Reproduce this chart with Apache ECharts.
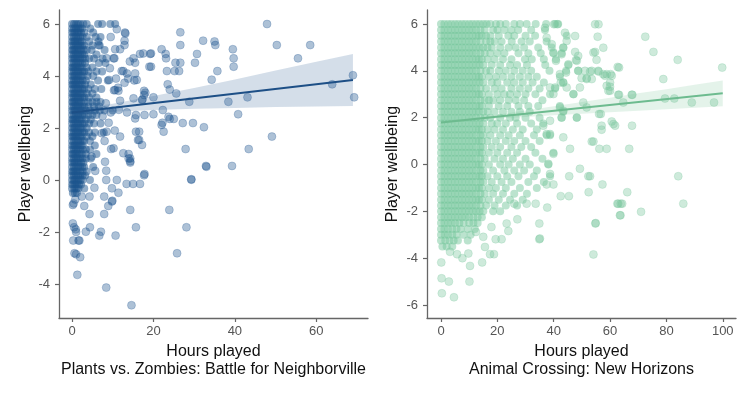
<!DOCTYPE html>
<html>
<head>
<meta charset="utf-8">
<script src="https://cdn.jsdelivr.net/npm/echarts@6/dist/echarts.min.js"></script>
<style>
html,body{margin:0;padding:0;background:#fff;}
#chart{width:750px;height:396px;}
</style>
</head>
<body>
<div id="chart"></div>
<script>
// ---- Plants vs. Zombies: Battle for Neighborville ----
// dense column near 0 hours, one row per wellbeing level: [y, [x...]]
var pvzDense = [
  [6.0, [0, 0.5, 1, 1.5, 2, 2.8, 3.6, 6.4, 7.4, 9.4, 10.6]],
  [5.83, [0, 0.5, 1, 1.5, 2, 2.5, 4.5]],
  [5.67, [0, 0.4, 0.8, 1.3, 1.6, 2.2, 3, 5.2]],
  [5.5, [0, 0.5, 1, 1.5, 2, 2.6, 3.6, 5.8, 7]],
  [5.33, [0, 0.4, 0.7, 1.1, 1.5, 2, 2.4, 4.2, 6.5]],
  [5.17, [0, 0.5, 1, 1.5, 2, 2.5, 3, 5, 6.8]],
  [5.0, [0, 0.3, 0.6, 1, 1.4, 1.8, 2.2, 2.9, 3.6, 4.8, 8.0]],
  [4.83, [0, 0.5, 1, 1.5, 2, 2.5, 3, 6.0]],
  [4.67, [0, 0.4, 0.7, 1.1, 1.5, 2, 2.6, 3.3, 4.2, 5.4, 7.5]],
  [4.5, [0, 0.5, 1, 1.5, 2, 2.5, 3.2, 6.6, 8.2]],
  [4.33, [0, 0.3, 0.6, 1, 1.4, 1.9, 2.4, 3.6, 5.0]],
  [4.17, [0, 0.5, 1, 1.5, 2, 2.5, 3, 4, 6, 7.4]],
  [4.0, [0, 0.4, 0.7, 1.1, 1.6, 2.1, 2.6, 3.8, 5.2]],
  [3.83, [0, 0.5, 1, 1.5, 2, 2.6, 3.4, 6.4, 8.8]],
  [3.67, [0, 0.3, 0.6, 1, 1.4, 1.9, 2.4, 3.2, 4.6]],
  [3.5, [0, 0.5, 1, 1.5, 2, 2.5, 3, 4, 5.6, 7.2]],
  [3.33, [0, 0.4, 0.7, 1.1, 1.6, 2.1, 2.6, 3.6, 5]],
  [3.17, [0, 0.5, 1, 1.5, 2, 2.5, 3, 4.2, 6]],
  [3.0, [0, 0.3, 0.6, 1, 1.4, 1.8, 2.2, 3, 4, 5, 6, 7]],
  [2.83, [0, 0.5, 1, 1.5, 2, 2.5, 3, 4, 5.4, 6.6]],
  [2.67, [0, 0.4, 0.7, 1.1, 1.5, 2, 2.4, 3.4, 4.4, 5.6, 6.8, 8, 10]],
  [2.5, [0, 0.5, 1, 1.5, 2, 2.5, 3, 4, 5, 6]],
  [2.33, [0, 0.3, 0.6, 1, 1.4, 1.9, 2.4, 3.4, 4.6]],
  [2.17, [0, 0.5, 1, 1.5, 2, 2.5, 3, 4.2, 5.4, 7]],
  [2.0, [0, 0.4, 0.7, 1.1, 1.6, 2.1, 2.6, 3.6]],
  [1.83, [0, 0.5, 1, 1.5, 2, 2.5, 3, 4.2, 5.6, 7.8]],
  [1.67, [0, 0.3, 0.6, 1, 1.4, 1.9, 2.4, 3.6, 5]],
  [1.5, [0, 0.5, 1, 1.5, 2, 2.5, 3, 4.4]],
  [1.33, [0, 0.4, 0.7, 1.1, 1.6, 2.1, 2.6, 5.6]],
  [1.17, [0, 0.5, 1, 1.5, 2, 2.6, 3.4, 4.4]],
  [1.0, [0, 0.3, 0.6, 1, 1.4, 1.9, 2.4, 3.4, 6]],
  [0.83, [0, 0.5, 1, 1.5, 2, 2.6, 3.4, 4.6]],
  [0.67, [0, 0.4, 0.7, 1.1, 1.6, 2.2, 2.8]],
  [0.5, [0, 0.5, 1, 1.5, 2, 2.5, 3, 5.2]],
  [0.33, [0, 0.3, 0.6, 1, 1.4, 2, 2.6, 3.6]],
  [0.17, [0, 0.5, 1, 1.5, 2, 2.6, 3.2]],
  [0.0, [0, 0.4, 0.7, 1.1, 1.6, 2.1, 2.6, 4.4]],
  [-0.17, [0, 0.3, 0.8, 1.2, 1.7, 2.2]],
  [-0.33, [0, 0.6, 1.1, 1.6, 3]],
  [-0.5, [0.2, 0.7, 1.2]]
];
// scattered players
var pvzPoints = [
  [47.9,6.0],[50.3,5.19],[58.5,5.19],[55.5,4.68],[69,4.03],[63.9,3.68],[69.3,3.18],[43.1,3.18],
  [38.4,3.01],[28.8,3.01],[40.8,2.53],[49.1,1.67],[43.4,1.19],[27.9,1.19],[32.9,0.54],[39.3,0.54],
  [29.3,0.03],[32.4,2.03],[29.7,2.19],[27.2,2.19],[25,2.35],[24,2.35],[22.3,2.69],[20,2.53],
  [22.5,1.86],[22.2,2.2],[34.3,3.86],[35.7,4.19],[35,5.33],[35.2,5.19],[32.2,5.36],[39.5,5.03],
  [39.7,4.68],[39.7,4.36],[30.7,4.85],[30.2,4.51],[26.6,5.68],[26.6,5.19],[26.6,4.51],[25.4,4.51],
  [26.3,4.19],[25.2,4.19],[23.3,4.19],[23.1,4.68],[23,4.85],[22,5.03],[23.5,3.68],[24,3.48],
  [25.6,3.33],[19.2,4.85],[19.4,4.36],[16.7,4.85],[15.1,4.68],[17.7,3.27],[17.2,3.08],[15.1,3.14],
  [17.7,3.43],[15.7,2.5],[17.2,1.35],[16.2,1.54],[15.7,1.86],[13.9,0.83],[13.9,1.0],[14.3,0.72],
  [17.8,0.23],[16.7,-0.15],[13.4,-0.15],[15,-0.15],[11,0],[8.4,0],[12.9,3.74],[13.8,3.9],
  [15.5,4.1],[15.3,3.83],[12.2,4.19],[11.3,3.55],[11.4,3.43],[10.3,3.45],[13.1,5.64],[12.9,5.36],
  [12.9,5.19],[10.6,5.03],[11.8,5.03],[10.4,4.68],[14.2,4.56],[6.5,5.19],[8.5,4.68],[9.1,3.85],
  [8.3,2.95],[9.6,1.19],[13,5.67],[10.2,4.68],[17.5,4.87],[19.4,4.87],[15.5,4.51],[19,4.36],
  [12.6,4.19],[13.5,4.1],[15.9,3.85],[18,3.36],[20,3.18],[17.3,3.1],[11.8,3.05],[10.6,3.46],
  [15.5,2.37],[17.8,2.5],[22,2.12],[23.7,2.43],[16.5,1.86],[16.5,1.54],[7.3,1.8],[8.5,1.86],
  [12.6,1.03],[14.3,0.83],[10.2,1.22],[11.8,1.67],[4.8,0.9],[8.1,0.7],[9.5,2.6],[11.5,2.7],
  [13.5,2.6],[7.5,2.45],[9,2.2],[10.5,1.9],[8,1.5],[10.8,3.9],[9.3,4.3],[9.5,5.5],[11,5.8],
  [0.2,-0.96],[9.8,-0.83],[8.9,-1.0],[4.3,-1.31],[7.9,-1.31],[14.3,-1.15],[23.9,-1.15],[0.2,-1.67],
  [0.5,-1.82],[1,-2.0],[4.4,-1.82],[3.4,-1.99],[7.1,-1.99],[6.7,-2.14],[10.7,-2.14],[15.7,-1.82],
  [28.1,-1.82],[0.3,-2.33],[1.8,-2.33],[0.6,-2.82],[1,-2.86],[2,-2.97],[1.3,-3.65],[25.8,-2.82],
  [8.4,-4.14],[14.6,-4.82],[33,0.51],[29.3,0.01],[17.7,0.18],[14.3,0.67],[8.4,0.36],[5.7,0.35],
  [9.8,-0.32],[11.4,-0.49],[7.9,-0.64],[9.9,-0.8],[2.4,-0.64],[4.3,-0.64],[0.9,-1.9],[1.6,-2.33],
  [0.4,-0.9],[0.8,-0.75],[3,-1.0],[5.5,-0.3]
];
var pvzFitX = [0, 69];
var pvzFitY = [2.6, 3.85];
var pvzBandX = [0, 10, 20, 30, 40, 50, 60, 69];
var pvzBandLow = [2.48, 2.63, 2.69, 2.74, 2.77, 2.81, 2.83, 2.85];
var pvzBandHigh = [2.72, 2.93, 3.23, 3.54, 3.87, 4.21, 4.55, 4.85];
var pvzXTicks = [0, 20, 40, 60];
var pvzYTicks = [-4, -2, 0, 2, 4, 6];

// ---- Animal Crossing: New Horizons ----
// the solid mass under ~15 hours plus the thinner cloud out to ~45 hours
var acDense = [
  [6.0, [0,1.2,2.5,3.7,5,6.2,7.5,8.7,10,11.2,12.5,13.7,15,16.2,17.5,19.5,21,23,26,28,30.4,33.6,37.3,40.5,41.6]],
  [5.75, [0,1.2,2.5,3.7,5,6.2,7.5,8.7,10,11.2,12.5,14,15.5,18.5,20,22.5,25,27.4,32,36.9]],
  [5.5, [0,1.2,2.5,3.7,5,6.2,7.5,8.7,10,11.2,12.5,13.5,14.5,16,17.5,20.5,23.9,26,30,33.4,44.6]],
  [5.25, [0,1.2,2.5,3.7,5,6.2,7.5,8.7,10,11.2,12.5,14,16,17.5,19,21.5,25.1,28.6,31.5,37.5]],
  [5.0, [0,1.2,2.5,3.7,5,6.2,7.5,8.7,10,11.2,12.5,13.7,15,16.5,18,21,24,26.5,29.5,34.5,39.3,43.4]],
  [4.75, [0,1.2,2.5,3.7,5,6.2,7.5,8.7,10,11.2,12.5,14,15.5,17.5,20,22.5,27.5,31,35.4,39.9,42.8]],
  [4.5, [0,1.2,2.5,3.7,5,6.2,7.5,8.7,10,11.2,12.5,13.5,14.5,16.5,19,22,25,29.8,32.2,36.5,40.8]],
  [4.25, [0,1.2,2.5,3.7,5,6.2,7.5,8.7,10,11.2,12.5,13.7,15,18,21,24.5,27,30.5,37,45.2]],
  [4.0, [0,1.2,2.5,3.7,5,6.2,7.5,8.7,10,11.2,12.5,14,16,17.5,20.5,23,26,29,32,38.5,44.4,48.7]],
  [3.75, [0,1.2,2.5,3.7,5,6.2,7.5,8.7,10,11.2,12.5,13.5,14.5,17,19.5,22,25,28,31,34,42.2]],
  [3.5, [0,1.2,2.5,3.7,5,6.2,7.5,8.7,10,11.2,12.5,13.7,15,18,20,23.5,26,29,32.5,36.5,43.4]],
  [3.25, [0,1.2,2.5,3.7,5,6.2,7.5,8.7,10,11.2,12.5,14,16,19,21.5,25,28,31,35,40.5]],
  [3.0, [0,1.2,2.5,3.7,5,6.2,7.5,8.7,10,11.2,12.5,13.5,14.5,17,20,22.5,24.5,27,30,33.5,38.7,47]],
  [2.75, [0,1.2,2.5,3.7,5,6.2,7.5,8.7,10,11.2,12.5,14,15.5,17,18.5,21,24,26.5,29.5,36]],
  [2.5, [0,1.2,2.5,3.7,5,6.2,7.5,8.7,10,11.2,12.5,13.7,14.5,17,20.5,23.5,27.5,31,34.5,42.2]],
  [2.25, [0,1.2,2.5,3.7,5,6.2,7.5,8.7,10,11.2,12.5,13.5,15,16.5,19,22,25,28,31.5,43.4]],
  [2.0, [0,1.2,2.5,3.7,5,6.2,7.5,8.7,10,11.2,12.5,14,15.5,17.5,21,24.5,26.5,30,35,42.8,48.2]],
  [1.75, [0,1.2,2.5,3.7,5,6.2,7.5,8.7,10,11.2,12.5,13.7,15,18,20,23,27,32,36.3]],
  [1.5, [0,1.2,2.5,3.7,5,6.2,7.5,8.7,10,11.2,12.5,13.5,14.5,16.5,19,22,25.5,29,34]],
  [1.25, [0,1.2,2.5,3.7,5,6.2,7.5,8.7,10,11.2,12.5,14,15,17.5,21,24,28,33,37.5,38.7]],
  [1.0, [0,1.2,2.5,3.7,5,6.2,7.5,8.7,10,11.2,12.5,13.5,14.5,16.5,19.5,23,26,30,35]],
  [0.75, [0,1.2,2.5,3.7,5,6.2,7.5,8.7,10,11.2,12.5,14,15,18,21,25,28.5,32]],
  [0.5, [0,1.2,2.5,3.7,5,6.2,7.5,8.7,10,11.2,12.5,13.7,14.5,17,20,23.5,27,33.5,39.9]],
  [0.25, [0,1.2,2.5,3.7,5,6.2,7.5,8.7,10,11.2,12.5,14,15.5,19,22,25.5,30,36]],
  [0.0, [0,1.2,2.5,3.7,5,6.2,7.5,8.7,10,11.2,12.5,13.5,14.5,17,21,24,28,31.5,38.1]],
  [-0.25, [0,1.2,2.5,3.7,5,6.2,7.5,8.7,10,11.2,12.5,14,15,18.5,22.5,26,29.5,34]],
  [-0.5, [0,1.2,2.5,3.7,5,6.2,7.5,8.7,10,11.2,12.5,13.7,14.5,16.5,20,23.5,27.5,33,38.7]],
  [-0.75, [0,1.2,2.5,3.7,5,6.2,7.5,8.7,10,11.2,12.5,14,15,18,21.5,25,31,36.5]],
  [-1.0, [0,1.2,2.5,3.7,5,6.2,7.5,8.7,10,11.2,12.5,13.5,14.5,17,19.5,23,28,34]],
  [-1.25, [0,1.2,2.5,3.7,5,6.2,7.5,8.7,10,11.2,12.5,14,15.5,18.5,22,26,30.5]],
  [-1.5, [0,1.2,2.5,3.7,5,6.2,7.5,8.7,10,11.2,12.5,13.5,14.5,17,20.5,24.5,29]],
  [-1.75, [0,1.2,2.5,3.7,5,6.2,7.5,8.7,10,11.2,12.5,14,16,19,23,27]],
  [-2.0, [0,1.2,2.5,3.7,5,6.2,7.5,8.7,10,11.2,12.5,13.7,15,18.5,21]],
  [-2.25, [0,1.2,2.5,3.7,5,6.2,7.5,8.7,10,11.5,13,14.5]],
  [-2.5, [0,1.2,2.5,3.7,5,6.5,8,10,11.5,13]],
  [-2.75, [0,1.2,2.5,4,5.5,7,9.5,12]],
  [-3.0, [0,1.3,2.5,4,5.5,8,10.5]],
  [-3.25, [0,1.5,3,4.5,6,9.5]],
  [-3.5, [0.5,2,4]]
];
var acPoints = [
  [0.2,-4.86],[2.8,-5.0],[10.1,-5.0],[0.3,-5.5],[4.6,-5.67],[0.1,-4.18],[10.3,-4.33],[14.6,-4.18],
  [5.7,-3.83],[7.6,-4.0],[9.7,-3.8],[3.2,-3.73],[15.6,-3.52],[17.4,-3.83],[18.8,-3.83],[19.4,-3.19],
  [21.5,-3.19],[17.9,-2.67],[23.3,-2.52],[23.9,-2.84],[27.1,-2.34],[34.9,-3.19],[34.9,-2.52],[37.7,-1.84],
  [12.4,-2.88],[15,-3.09],[54.1,-3.84],[54.8,-2.52],[63.7,-2.17],[62.6,-1.67],[64.3,-1.67],[71,-2.02],
  [86,-1.67],[26,-1.67],[30.4,-1.67],[33.6,-1.67],
  [55.9,5.99],[55.6,5.46],[57.6,4.99],[54.7,4.81],[55.2,4.47],[72.5,5.46],[75.4,4.81],[84,4.47],
  [99.8,4.14],[78.9,3.65],[63.2,4.14],[60.2,3.86],[58.8,3.86],[57.6,3.86],[55.9,3.97],[52.9,3.97],
  [60,3.5],[60,3.32],[60,3.15],[63.2,2.98],[67.9,2.98],[64.7,2.65],[79.5,2.82],[82.8,2.82],
  [89,2.65],[96.9,2.65],[56.7,2.16],[60.6,1.84],[61.8,1.66],[57,1.66],[57,1.49],[67.8,1.66],
  [53.5,0.98],[54.1,0.98],[56.2,0.67],[58.8,0.67],[66.8,0.67],[45.8,0.67],[49.3,-0.18],[52.3,-0.5],
  [52.9,-0.5],[45.5,-0.5],[84.2,-0.5],[57.3,-0.85],[52.4,-1.18],[66.1,-1.18],[42.5,-1.35],[45.4,-1.35],
  [39.9,-0.85],[37.5,-0.85],[62.9,-1.67],[63.8,-1.67],[63.5,-2.17],[54.9,-2.5],[35.1,-3.16],[43.4,1.16],
  [39.9,0.46],[38.1,0.03],[38.7,-0.4],[48.7,4.0],[51.7,3.65],[53.5,3.65],[47.6,4.81],[47.9,4.46],
  [44,5.63],[44.6,5.28],[40.1,5.99],[41.3,5.99],[36.9,5.84],[37.5,5.42],[39.3,5.14],[39.9,4.78],
  [40.8,4.43],[43.4,4.99],[42.8,4.71],[45.2,4.28],[44.4,3.93],[42.2,3.86],[43.4,3.5],[40.5,3.29],
  [38.7,3.29],[39.9,3.01],[47,3.01],[49.3,3.29],[50.5,2.65],[51.7,2.44],[48.2,2.01],[42.2,2.44],
  [43.4,2.3],[42.8,2.01],[38.7,1.87],[36.3,1.66],[37.5,1.3],[38.7,1.3],
  [47.6,5.49],[54.7,5.99],[54.1,4.78],[48.7,4.64],[48.2,4.43],[51.1,4.0],[53.5,4.0],[55.8,4.0],
  [42.5,3.5],[44.6,3.29],[49.9,3.69],[51.7,3.69],[58.2,3.79],[60.6,3.79],[58.8,3.36],[59.4,3.15],
  [62.7,4.17],[67.7,2.98],[62.9,2.98],[61.2,1.73],[56.1,2.16]
];
var acFitX = [0, 100];
var acFitY = [1.80, 3.04];
var acBandX = [0, 10, 20, 30, 40, 50, 60, 70, 80, 90, 100];
var acBandLow = [1.74, 1.87, 1.97, 2.03, 2.11, 2.17, 2.23, 2.30, 2.36, 2.43, 2.49];
var acBandHigh = [1.86, 1.97, 2.13, 2.31, 2.49, 2.67, 2.85, 3.04, 3.22, 3.41, 3.59];
var acXTicks = [0, 20, 40, 60, 80, 100];
var acYTicks = [-6, -4, -2, 0, 2, 4, 6];

var FONT = 'Liberation Sans';
var BLUE = '28,84,142';
var GREEN = '118,198,155';

function rowsToPoints(rows) {
  var out = [];
  rows.forEach(function (r) {
    r[1].forEach(function (x) { out.push([x, r[0]]); });
  });
  return out;
}
function zipXY(xs, ys) {
  return xs.map(function (x, i) { return [x, ys[i]]; });
}
function bandData(xs, lo, hi) {
  return xs.map(function (x, i) { return [x, lo[i], hi[i]]; });
}
// whole ribbon is drawn once, as one polygon, from the band arrays
function bandRenderer(xs, lo, hi, fill) {
  return function (params, api) {
    if (params.dataIndex !== 0) return;
    var pts = [];
    for (var i = 0; i < xs.length; i++) pts.push(api.coord([xs[i], hi[i]]));
    for (var j = xs.length - 1; j >= 0; j--) pts.push(api.coord([xs[j], lo[j]]));
    return { type: 'polygon', shape: { points: pts }, style: { fill: fill } };
  };
}
// dense clouds: plain discs; scattered players: disc with a faint ring
function scatter(idx, data, rgb, ring) {
  return {
    type: 'scatter', xAxisIndex: idx, yAxisIndex: idx, z: 2,
    data: data, symbol: 'circle', symbolSize: 8,
    itemStyle: ring
      ? { color: 'rgba(' + rgb + ',0.45)', borderColor: 'rgba(' + rgb + ',0.3)', borderWidth: 1 }
      : { color: 'rgba(' + rgb + ',0.62)', borderWidth: 0 }
  };
}

function xAxisOpt(idx, min, max, ticks, subtitle) {
  return {
    gridIndex: idx, type: 'value', min: min, max: max,
    name: 'Hours played\n' + subtitle,
    nameLocation: 'middle', nameGap: 22,
    nameTextStyle: { color: '#111', fontSize: 16, fontFamily: FONT, lineHeight: 18 },
    axisLine: { onZero: false, lineStyle: { color: '#666', width: 1.3 } },
    axisTick: { length: 4, customValues: ticks, lineStyle: { color: '#666', width: 1.2 } },
    axisLabel: { customValues: ticks, margin: 7, color: '#555', fontSize: 13, fontFamily: FONT },
    splitLine: { show: false }
  };
}
function yAxisOpt(idx, min, max, ticks, gap) {
  return {
    gridIndex: idx, type: 'value', min: min, max: max,
    name: 'Player wellbeing', nameLocation: 'middle', nameGap: gap,
    nameTextStyle: { color: '#111', fontSize: 16, fontFamily: FONT },
    axisLine: { onZero: false, lineStyle: { color: '#666', width: 1.3 } },
    axisTick: { length: 4, customValues: ticks, lineStyle: { color: '#666', width: 1.2 } },
    axisLabel: { customValues: ticks, margin: 9, color: '#555', fontSize: 13, fontFamily: FONT },
    splitLine: { show: false }
  };
}

var chart = echarts.init(document.getElementById('chart'), null, { renderer: 'canvas' });
var option = {
  animation: false,
  backgroundColor: '#fff',
  grid: [
    { left: 59, top: 10, width: 309, height: 308 },
    { left: 427, top: 10, width: 309, height: 308 }
  ],
  xAxis: [
    xAxisOpt(0, -3.2, 72.7, pvzXTicks, 'Plants vs. Zombies: Battle for Neighborville'),
    xAxisOpt(1, -4.97, 104.7, acXTicks, 'Animal Crossing: New Horizons')
  ],
  yAxis: [
    yAxisOpt(0, -5.31, 6.54, pvzYTicks, 25),
    yAxisOpt(1, -6.555, 6.6, acYTicks, 26)
  ],
  series: [
    scatter(0, rowsToPoints(pvzDense), BLUE, false),
    scatter(0, pvzPoints, BLUE, true),
    {
      type: 'custom', xAxisIndex: 0, yAxisIndex: 0, z: 3,
      data: bandData(pvzBandX, pvzBandLow, pvzBandHigh),
      encode: { x: 0, y: [1, 2] },
      renderItem: bandRenderer(pvzBandX, pvzBandLow, pvzBandHigh, 'rgba(40,90,145,0.2)')
    },
    {
      type: 'line', xAxisIndex: 0, yAxisIndex: 0, z: 4,
      data: zipXY(pvzFitX, pvzFitY), showSymbol: false,
      lineStyle: { color: '#1d4f86', width: 2 }
    },
    scatter(1, rowsToPoints(acDense), GREEN, false),
    scatter(1, acPoints, GREEN, true),
    {
      type: 'custom', xAxisIndex: 1, yAxisIndex: 1, z: 3,
      data: bandData(acBandX, acBandLow, acBandHigh),
      encode: { x: 0, y: [1, 2] },
      renderItem: bandRenderer(acBandX, acBandLow, acBandHigh, 'rgba(120,195,150,0.2)')
    },
    {
      type: 'line', xAxisIndex: 1, yAxisIndex: 1, z: 4,
      data: zipXY(acFitX, acFitY), showSymbol: false,
      lineStyle: { color: '#6dbb8f', width: 2 }
    }
  ]
};
chart.setOption(option, true);
window.addEventListener('resize', function () { chart.resize(); });
</script>
</body>
</html>
